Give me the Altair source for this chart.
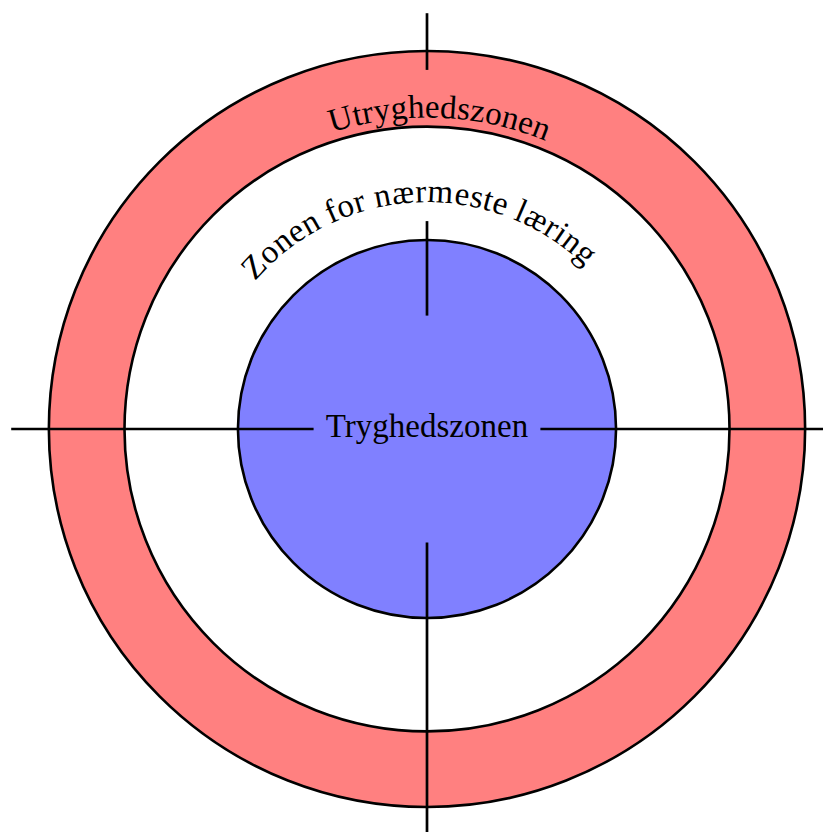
import math
import altair as alt
import pandas as pd

# ---- data -------------------------------------------------------------
zones = ["Utryghedszonen", "Zonen for nærmeste læring", "Tryghedszonen"]
zone_radii = [5.0, 4.0, 2.5]
zone_fills = ["#ff8080", "#ffffff", "#8080ff"]

# cross-hair segments: orientation, start, end (same units as radii)
seg_axis = ["h", "h", "v", "v", "v"]
seg_from = [-5.5, 1.5, 4.75, 1.5, -5.5]
seg_to = [-1.5, 5.5, 5.5, 2.75, -1.5]

arc_labels = ["Utryghedszonen", "Zonen for nærmeste læring"]
arc_label_radius = [4.12, 3.0]
arc_label_center_deg = [2.3, -2.6]
arc_label_spread = [1.01, 1.035]
center_label = "Tryghedszonen"

FONT = "Liberation Serif"
FONT_SIZE = 33
PX_PER_UNIT = 75.6

# approximate advance widths (em/1000) for the serif font
char_w = {
    "U": 722, "t": 278, "r": 333, "y": 500, "g": 500, "h": 500, "e": 444,
    "d": 500, "s": 389, "z": 444, "o": 500, "n": 500, "Z": 611, " ": 250,
    "f": 333, "æ": 667, "m": 778, "l": 278, "i": 278, "T": 611,
}

# ---- tables -------------------------------------------------------------
zone_df = pd.DataFrame({
    "zone": zones, "r": zone_radii, "cx": 0.0, "cy": 0.0,
    "order": list(range(len(zones))),
})

rows = []
for a, f, t in zip(seg_axis, seg_from, seg_to):
    if a == "h":
        rows.append({"x1": f, "x2": t, "y1": 0.0, "y2": 0.0})
    else:
        rows.append({"x1": 0.0, "x2": 0.0, "y1": f, "y2": t})
seg_df = pd.DataFrame(rows)

chars = []
for label, rad, cdeg, spread in zip(arc_labels, arc_label_radius,
                                    arc_label_center_deg, arc_label_spread):
    widths = [char_w.get(c, 500) / 1000 * FONT_SIZE * spread for c in label]
    total = sum(widths)
    pos = -total / 2
    rad_px = rad * PX_PER_UNIT
    for c, w in zip(label, widths):
        s = pos + w / 2
        pos += w
        if c == " ":
            continue
        phi = math.radians(cdeg) + s / rad_px
        chars.append({
            "ch": c,
            "x": rad * math.sin(phi),
            "y": rad * math.cos(phi),
            "rot": math.degrees(phi) % 360,
        })
char_df = pd.DataFrame(chars)
center_df = pd.DataFrame({"t": [center_label], "x": [0.0], "y": [0.0]})

# ---- scales -------------------------------------------------------------
W, H = 815, 824
xs = alt.Scale(domain=[-419 / PX_PER_UNIT, (W - 419) / PX_PER_UNIT], nice=False, zero=False)
ys = alt.Scale(domain=[-(H - 421) / PX_PER_UNIT, 421 / PX_PER_UNIT], nice=False, zero=False)
rs = alt.Scale(type="linear", domain=[0, 5], range=[0, 5 * PX_PER_UNIT], nice=False, zero=True)

discs = alt.Chart(zone_df).mark_arc(
    theta=0, theta2=2 * math.pi, stroke="black", strokeWidth=2.6
).encode(
    x=alt.X("cx:Q", scale=xs, axis=None),
    y=alt.Y("cy:Q", scale=ys, axis=None),
    radius=alt.Radius("r:Q", scale=rs, stack=None),
    color=alt.Color("zone:N", scale=alt.Scale(domain=zones, range=zone_fills), legend=None),
    order=alt.Order("order:Q"),
)

lines = alt.Chart(seg_df).mark_rule(color="black", strokeWidth=2.7, clip=True).encode(
    x=alt.X("x1:Q", scale=xs, axis=None),
    x2="x2:Q",
    y=alt.Y("y1:Q", scale=ys, axis=None),
    y2="y2:Q",
)

arc_text = alt.Chart(char_df).mark_text(
    font=FONT, fontSize=FONT_SIZE, baseline="alphabetic", align="center", color="black"
).encode(
    x=alt.X("x:Q", scale=xs, axis=None),
    y=alt.Y("y:Q", scale=ys, axis=None),
    text="ch:N",
    angle=alt.Angle("rot:Q", scale=None),
)

center_text = alt.Chart(center_df).mark_text(
    font=FONT, fontSize=FONT_SIZE, baseline="alphabetic", align="center", color="black", dy=8
).encode(
    x=alt.X("x:Q", scale=xs, axis=None),
    y=alt.Y("y:Q", scale=ys, axis=None),
    text="t:N",
)

chart = alt.layer(discs, lines, arc_text, center_text).properties(
    width=W, height=H, padding=0, autosize="none"
).configure_view(stroke=None)

chart.save("out.html", embed_options={"renderer": "svg", "actions": False})
